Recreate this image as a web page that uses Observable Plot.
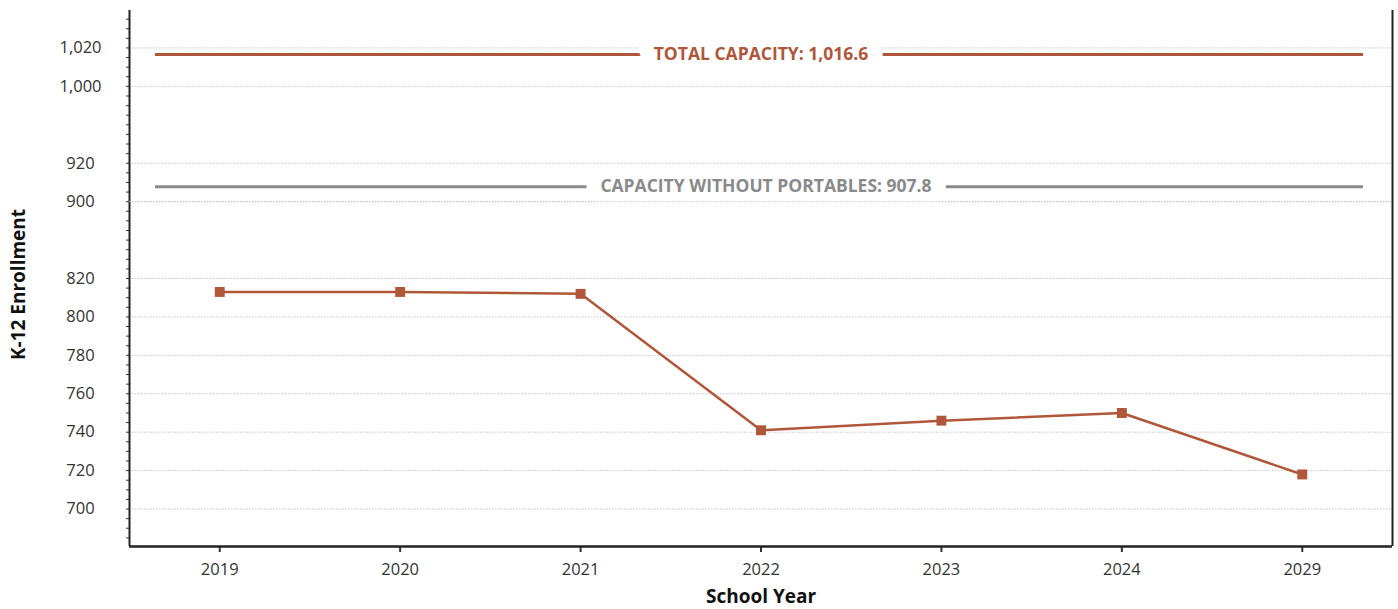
<!DOCTYPE html>
<html><head><meta charset="utf-8">
<script src="https://cdn.jsdelivr.net/npm/d3@7"></script>
<script src="https://cdn.jsdelivr.net/npm/@observablehq/plot@0.6"></script>
<style>body{margin:0;background:#fff;}</style>
</head><body><div id="chart"></div>
<script>
const years = ["2019", "2020", "2021", "2022", "2023", "2024", "2029"];
const enrollment = [813, 813, 812, 741, 746, 750, 718];
const capacityLabels = ["TOTAL CAPACITY: 1,016.6", "CAPACITY WITHOUT PORTABLES: 907.8"];
const capacityValues = [1016.6, 907.8];
const capacityColors = ["#b0573a", "#8a8a8a"];
const yTicks = [700, 720, 740, 760, 780, 800, 820, 900, 920, 1000, 1020];
const axisBreaks = [[820, 900], [920, 1000]]; // compressed to half scale

function squash(v) {
  let out = v;
  for (const [a, b] of axisBreaks) {
    if (v > b) out -= (b - a) / 2;
    else if (v > a) out -= (v - a) / 2;
  }
  return out;
}

const data = years.map((year, i) => ({i, year, value: enrollment[i]}));
const caps = capacityValues.map((v, k) => ({v, label: capacityLabels[k], color: capacityColors[k]}));
const tickLabel = new Map(yTicks.map(t => [squash(t), d3.format(",")(t)]));
const yMin = 680.5, yMax = 959.5;
const lineColor = "#b0573a";
const capText = {y: d => squash(d.v), text: "label", fontWeight: "bold", fontSize: 17.5};
const halo = (w) => ({fill: "white", stroke: "white", strokeWidth: w, strokeLinejoin: "round"});

const chart = Plot.plot({
  width: 1398, height: 609,
  marginTop: 10, marginLeft: 129, marginRight: 6, marginBottom: 63,
  style: {fontFamily: "'Open Sans', sans-serif", fontSize: "16.5px", color: "#333", background: "#fff"},
  x: {domain: [-0.5, years.length - 0.5]},
  y: {domain: [yMin, yMax]},
  color: {type: "identity"},
  marks: [
    Plot.ruleY(yTicks, {y: squash, stroke: "#c4c4c4", strokeDasharray: "1.5,1.5", strokeWidth: 1}),
    Plot.axisY({ticks: yTicks.map(squash), tickSize: 0, tickPadding: 49, textAnchor: "middle", tickFormat: d => tickLabel.get(d), label: null, fill: "#333"}),
    Plot.axisY({ticks: d3.range(685, 960, 5), tickSize: 3, fill: "none", label: null, stroke: "#333"}),
    Plot.axisX({ticks: d3.range(years.length), tickSize: 6, tickPadding: 11, tickFormat: i => years[i], label: null, strokeWidth: 2, stroke: "#333", fill: "#333"}),
    Plot.ruleX([-0.5, years.length - 0.5], {stroke: "#222", strokeWidth: 2}),
    Plot.ruleY([yMin], {stroke: "#222", strokeWidth: 2.5}),
    Plot.ruleY(caps, {y: d => squash(d.v), stroke: "color", strokeWidth: 3, insetLeft: 26, insetRight: 29}),
    Plot.text(caps.slice(0, 1), {...capText, ...halo(30)}),
    Plot.text(caps.slice(0, 1), {...capText, ...halo(12)}),
    Plot.text(caps.slice(1), {...capText, dx: 5, ...halo(30)}),
    Plot.text(caps.slice(1), {...capText, dx: 5, ...halo(12)}),
    Plot.ruleY([900], {y: squash, stroke: "#c4c4c4", strokeDasharray: "1.5,1.5", strokeWidth: 1}),
    Plot.text(caps.slice(0, 1), {...capText, fill: "color"}),
    Plot.text(caps.slice(1), {...capText, dx: 5, fill: "color"}),
    Plot.line(data, {x: "i", y: d => squash(d.value), stroke: lineColor, strokeWidth: 2.5}),
    Plot.dot(data, {x: "i", y: d => squash(d.value), symbol: "square", r: 5.6, fill: lineColor}),
    Plot.text(["K-12 Enrollment"], {frameAnchor: "left", textAnchor: "middle", rotate: -90, dx: -111, dy: 6, fontWeight: "bold", fontSize: 19, fill: "#111"}),
    Plot.text(["School Year"], {frameAnchor: "bottom", dy: 56, fontWeight: "bold", fontSize: 19, fill: "#111"})
  ]
});
document.getElementById("chart").append(chart);
</script>
</body></html>
